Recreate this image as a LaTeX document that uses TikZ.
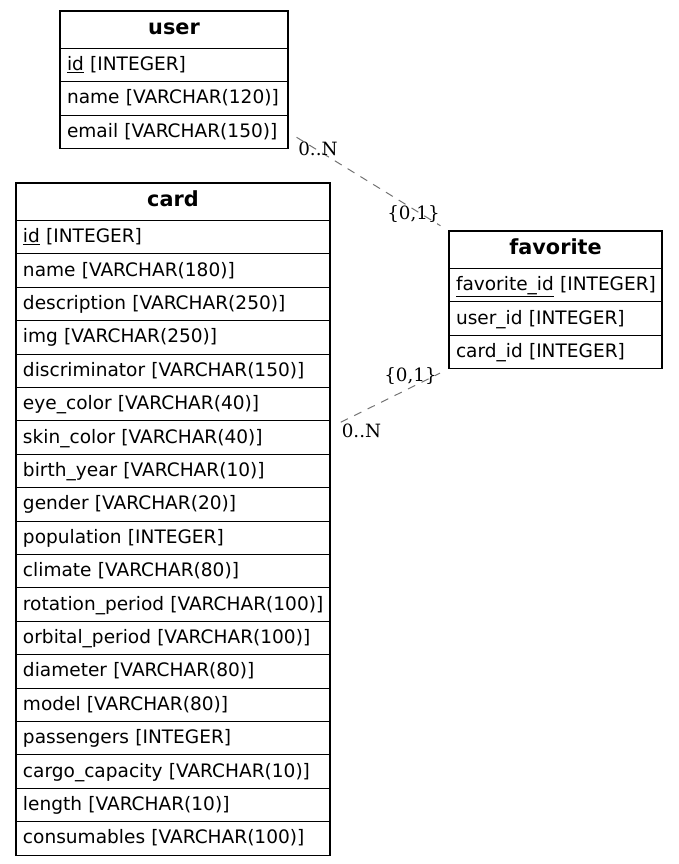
\documentclass[tikz,border=0pt]{standalone}
\usepackage{fontspec}
\usetikzlibrary{calc}
\newfontfamily\dvsans{DejaVu Sans}
\newfontfamily\dvserif{DejaVu Serif}
\newcommand\headfont{\dvsans\bfseries\fontsize{20.8}{24}\selectfont}
\newcommand\rowfont{\dvsans\fontsize{18.55}{22}\selectfont}
\newcommand\lblfont{\dvserif\fontsize{18.3}{22}\selectfont}
\tikzset{
  tblhead/.style={draw, line width=1.1pt, anchor=north west, minimum height=37.5pt,
    inner sep=0pt, outer sep=0pt, font=\headfont, text height=14pt, text depth=5pt},
  tblrow/.style={draw, line width=1.1pt, anchor=north west, minimum height=33.4pt,
    inner xsep=7pt, inner ysep=0pt, outer sep=0pt, align=left, font=\rowfont,
    text height=14pt, text depth=3.2pt},
  rel/.style={draw=black!55, line width=1pt, dash pattern=on 8pt off 7pt},
  cardlbl/.style={inner sep=0pt, font=\lblfont}
}
\begin{document}
\begin{tikzpicture}[x=1pt, y=-1pt]
  \useasboundingbox (0,0) rectangle (679,864);
  % user
  \node[tblhead, minimum width=228pt] (user-0) at (60,11) {user};
  \foreach \f [count=\i] in {\underline{id} [INTEGER], name [VARCHAR(120)], email [VARCHAR(150)]} {
    \pgfmathtruncatemacro\j{\i-1}
    \node[tblrow, text width=214pt] (user-\i) at (user-\j.south west) {\mbox{\f}};
  }
  % card
  \node[tblhead, minimum width=314pt] (card-0) at (16,183) {card};
  \foreach \f [count=\i] in {\underline{id} [INTEGER], name [VARCHAR(180)],
      description [VARCHAR(250)], img [VARCHAR(250)], discriminator [VARCHAR(150)],
      eye\_color [VARCHAR(40)], skin\_color [VARCHAR(40)], birth\_year [VARCHAR(10)],
      gender [VARCHAR(20)], population [INTEGER], climate [VARCHAR(80)],
      rotation\_period [VARCHAR(100)], orbital\_period [VARCHAR(100)],
      diameter [VARCHAR(80)], model [VARCHAR(80)], passengers [INTEGER],
      cargo\_capacity [VARCHAR(10)], length [VARCHAR(10)], consumables [VARCHAR(100)]} {
    \pgfmathtruncatemacro\j{\i-1}
    \node[tblrow, text width=300pt] (card-\i) at (card-\j.south west) {\mbox{\f}};
  }
  % favorite
  \node[tblhead, minimum width=213pt] (fav-0) at (449,231) {favorite};
  \foreach \f [count=\i] in {\underline{favorite\_id} [INTEGER], user\_id [INTEGER], card\_id [INTEGER]} {
    \pgfmathtruncatemacro\j{\i-1}
    \node[tblrow, text width=199pt] (fav-\i) at (fav-\j.south west) {\mbox{\f}};
  }
  % relations
  \coordinate (c-out) at ($(card-7.north east)!0.2!(card-7.south east)$);
  \draw[rel, shorten <=10pt, shorten >=10pt] (user-3.east) -- (fav-0.north west);
  \draw[rel, shorten <=12pt, shorten >=10pt] (c-out) -- (fav-3.south west);
  \node[cardlbl] (m-user) at ($(user-3.east)+(30,17)$) {0..N};
  \node[cardlbl] (o-user) at ($(fav-0.north west)+(-35.5,-17)$) {\{0,1\}};
  \node[cardlbl] (o-card) at ($(fav-3.south west)+(-38.5,7.8)$) {\{0,1\}};
  \node[cardlbl] (m-card) at ($(c-out)+(31.5,3)$) {0..N};
\end{tikzpicture}
\end{document}
